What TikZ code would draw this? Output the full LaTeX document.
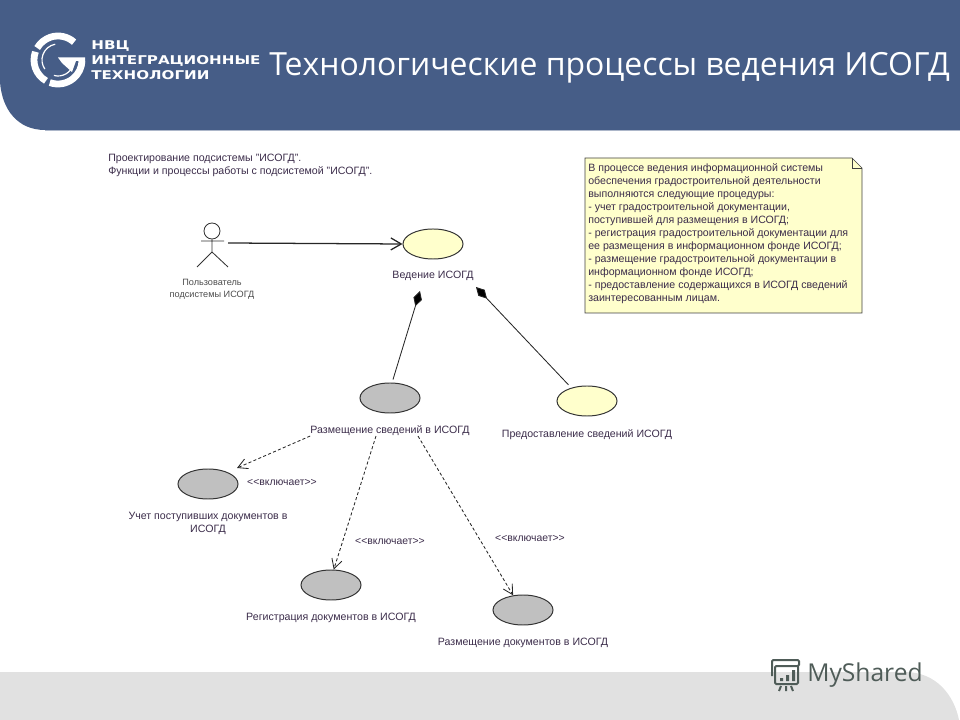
\documentclass[tikz,border=0pt]{standalone}
\usepackage{fontspec}
\setmainfont{Liberation Sans}
\newfontfamily\titlefont{Open Sans}
\newfontfamily\logofont{DejaVu Sans}
\usetikzlibrary{arrows.meta,calc,positioning,shapes.geometric}
\definecolor{Header}{HTML}{465D87}
\definecolor{Footer}{HTML}{E1E1E1}
\definecolor{Ink}{HTML}{3B2C4A}
\definecolor{NoteFill}{HTML}{FFFFCC}
\definecolor{UseYellow}{HTML}{FFFFCC}
\definecolor{UseGray}{HTML}{C0C0C0}
\definecolor{Brand}{HTML}{4F5C58}
\begin{document}
\begin{tikzpicture}[x=.025cm,y=-.025cm,node distance=.12cm,
    usecase/.style={ellipse,draw=black!80,line width=.7pt,minimum width=1.5cm,minimum height=.75cm,inner sep=0pt},
    caption/.style={font=\fontsize{7.55}{9.3}\selectfont,text=Ink,inner sep=0pt,align=center},
    stereo/.style={font=\fontsize{7.4}{8}\selectfont,text=Ink,inner sep=0pt},
    brandline/.style={font=\logofont\bfseries\fontsize{8.6}{10}\selectfont,text=white,inner sep=0pt,anchor=west,xscale=1.25},
    include/.style={line width=.6pt,dash pattern=on 2.2pt off 1.6pt,black!85,-{Straight Barb[length=2.4mm,width=2.6mm]}},
    part/.style={line width=.6pt,black!85,-{Diamond[length=4mm,width=2.2mm,fill=black]}}]
    \useasboundingbox (0,0) rectangle (960,720);
    % page frame
    \fill[Footer] (0,672) -- (905,672) .. controls (936,672) and (954,695) .. (959,720) -- (0,720) -- cycle;
    \fill[Header] (0,0) -- (960,0) -- (960,130) -- (45,130) .. controls (18,130) and (2,110) .. (0,82) -- cycle;
    \draw[Header!45] (45,130.5) -- (960,130.5);
    \node[font=\titlefont\fontsize{22.7}{26}\selectfont,text=white,inner sep=0pt,anchor=west] (title) at (269,67.5) {Технологические процессы ведения ИСОГД};
    % logo
    \coordinate (logoC) at (58,60);
    \draw[white,line width=.17cm] ($(logoC)+(48:.6cm)$) arc[start angle=48,end angle=150,radius=.6cm];
    \draw[white,line width=.17cm] ($(logoC)+(160:.6cm)$) arc[start angle=160,end angle=240,radius=.6cm];
    \draw[white,line width=.17cm] ($(logoC)+(250:.6cm)$) arc[start angle=250,end angle=358,radius=.6cm];
    \draw[white,line width=.03cm] ($(logoC)+(100:.4cm)$) arc[start angle=100,end angle=215,radius=.4cm];
    \draw[white,line width=.03cm] ($(logoC)+(255:.4cm)$) arc[start angle=255,end angle=345,radius=.4cm];
    \fill[white] (58,57.5) -- (85,57.5) -- (85,61) -- (76,61) -- (72,72) -- (62,63) -- cycle;
    \node[brandline] (brandA) at (91,46) {НВЦ};
    \node[brandline] (brandB) at (91,60.5) {ИНТЕГРАЦИОННЫЕ};
    \node[brandline] (brandC) at (91,75) {ТЕХНОЛОГИИ};
    % myshared mark
    \draw[Brand,line width=.05cm,rounded corners=.03cm] (772,676) -- (772,660) -- (799,660) -- (799,666) -- (775,666) -- (775,684) -- (798,684) -- (798,666);
    \fill[Brand] (780,678) rectangle (783,681) (786,675) rectangle (789,681) (792,670) rectangle (795,681);
    \draw[Brand,line width=.05cm] (781,686) -- (779,691) (786,686) -- (786,691) (791,686) -- (793,691);
    \node[font=\titlefont\fontsize{17.5}{22}\selectfont,text=Brand,inner sep=0pt,anchor=west] (brandSite) at (807,675) {MyShared};
    % heading of the diagram
    \node[caption,align=left,anchor=north west] (heading) at (108,154) {Проектирование подсистемы "ИСОГД".\\Функции и процессы работы с подсистемой "ИСОГД".};
    % note
    \draw[black!75,fill=NoteFill] (585,158) -- (852,158) -- (862,168) -- (862,313) -- (585,313) -- cycle;
    \draw[black!75] (852,158) -- (852,168) -- (862,168);
    \node[caption,align=left,anchor=north west] (note) at (588,163) {В процессе ведения информационной системы\\обеспечения градостроительной деятельности\\выполняются следующие процедуры:\\- учет градостроительной документации,\\поступившей для размещения в ИСОГД;\\- регистрация градостроительной документации для\\ее размещения в информационном фонде ИСОГД;\\- размещение градостроительной документации в\\информационном фонде ИСОГД;\\- предоставление содержащихся в ИСОГД сведений\\заинтересованным лицам.};
    % actor
    \node[circle,draw=black!80,line width=.6pt,minimum size=.4cm,inner sep=0pt] (actor) at (212,231) {};
    \draw[black!80,line width=.6pt] (actor.south) -- (212,252) -- (197,267) (212,252) -- (228,267) (201,241) -- (224,241);
    \node[font=\fontsize{6.5}{8.6}\selectfont,text=black!70,inner sep=0pt,align=center] (actorLabel) at (212,289) {Пользователь\\подсистемы ИСОГД};
    % use cases
    \node[usecase,fill=UseYellow] (keep) at (433,244) {};
    \node[caption,below=.28cm of keep] (keepLabel) {Ведение ИСОГД};
    \node[usecase,fill=UseGray] (place) at (390,398) {};
    \node[caption,below=.3cm of place] (placeLabel) {Размещение сведений в ИСОГД};
    \node[usecase,fill=UseYellow] (give) at (587,401) {};
    \node[caption,below=.31cm of give] (giveLabel) {Предоставление сведений ИСОГД};
    \node[usecase,fill=UseGray] (inbox) at (208,484) {};
    \node[caption,below=.32cm of inbox] (inboxLabel) {Учет поступивших документов в\\ИСОГД};
    \node[usecase,fill=UseGray] (register) at (331,585) {};
    \node[caption,below=.31cm of register] (registerLabel) {Регистрация документов в ИСОГД};
    \node[usecase,fill=UseGray] (store) at (523,610) {};
    \node[caption,below=.31cm of store] (storeLabel) {Размещение документов в ИСОГД};
    % connectors
    \coordinate (actorHand) at (228,243);
    \coordinate (keepTipA) at (420,291);
    \coordinate (keepTipB) at (476,287);
    \coordinate (inboxTip) at (237,468);
    \draw[black!85,line width=.9pt,-{Straight Barb[length=2.6mm,width=3mm]}] (actorHand) -- (keep.west);
    \draw[part] (place.north) ++(3,-3) -- (keepTipA);
    \draw[part,shorten <=.1cm] (give.140) -- (keepTipB);
    \draw[include] (placeLabel.south west) -- (inboxTip);
    \draw[include] ([xshift=-.35cm]placeLabel.south) -- (register.80);
    \draw[include] ([xshift=.7cm]placeLabel.south) -- (store.124);
    \node[stereo] (incA) at (282,482.5) {<{}<включает>{}>};
    \node[stereo] (incB) at (390,541.5) {<{}<включает>{}>};
    \node[stereo] (incC) at (530,538.5) {<{}<включает>{}>};
\end{tikzpicture}
\end{document}
